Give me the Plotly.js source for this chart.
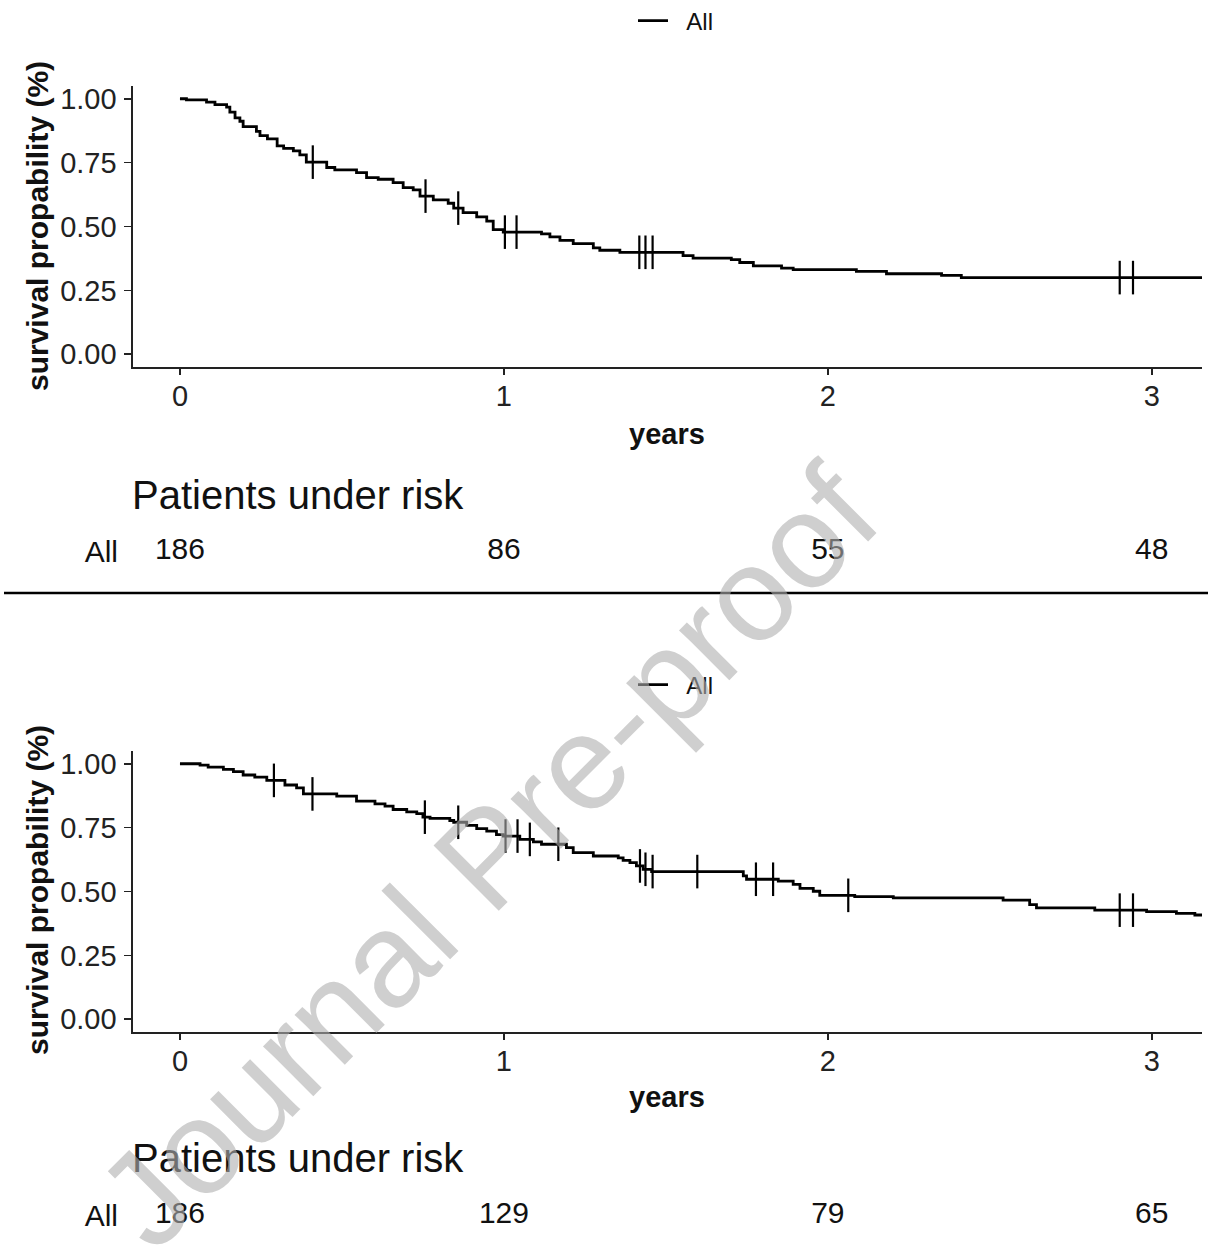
<!DOCTYPE html>
<html>
<head>
<meta charset="utf-8">
<script src="https://cdn.plot.ly/plotly-3.0.1.min.js"></script>
<style>html,body{margin:0;padding:0;background:#fff;}#chart{width:1208px;height:1253px;}</style>
</head>
<body>
<div id="chart"></div>
<script>
// ---- Data ----
const seriesName = "All";
const yearTicks = [0, 1, 2, 3];
const survTicks = [0, 0.25, 0.5, 0.75, 1];

// Upper panel: Kaplan-Meier steps
const timeTop = [0, 0.02, 0.082, 0.108, 0.144, 0.154, 0.170, 0.185, 0.195, 0.236, 0.247, 0.270, 0.300, 0.320, 0.350, 0.370, 0.390, 0.453, 0.478, 0.545, 0.576, 0.612, 0.658, 0.689, 0.72, 0.741, 0.782, 0.828, 0.845, 0.874, 0.916, 0.947, 0.967, 0.998, 1.116, 1.142, 1.173, 1.214, 1.276, 1.296, 1.358, 1.553, 1.584, 1.702, 1.728, 1.770, 1.857, 1.893, 2.088, 2.181, 2.351, 2.412, 3.2];
const survTop = [1, 0.996, 0.987, 0.977, 0.967, 0.948, 0.925, 0.912, 0.891, 0.872, 0.856, 0.843, 0.816, 0.806, 0.796, 0.780, 0.752, 0.731, 0.722, 0.711, 0.691, 0.685, 0.672, 0.652, 0.643, 0.619, 0.604, 0.591, 0.572, 0.554, 0.538, 0.521, 0.488, 0.478, 0.471, 0.459, 0.446, 0.433, 0.416, 0.407, 0.399, 0.386, 0.376, 0.370, 0.359, 0.346, 0.337, 0.331, 0.324, 0.315, 0.309, 0.300, 0.300];
const censorTop = [0.41, 0.758, 0.859, 1.003, 1.039, 1.418, 1.437, 1.459, 2.901, 2.942];
const riskTop = [186, 86, 55, 48];

// Lower panel: Kaplan-Meier steps
const timeBot = [0, 0.062, 0.087, 0.134, 0.165, 0.195, 0.231, 0.268, 0.324, 0.36, 0.381, 0.484, 0.545, 0.602, 0.633, 0.658, 0.70, 0.731, 0.750, 0.772, 0.833, 0.845, 0.885, 0.916, 0.947, 0.977, 0.998, 1.049, 1.091, 1.116, 1.193, 1.214, 1.276, 1.353, 1.368, 1.389, 1.409, 1.430, 1.456, 1.739, 1.749, 1.847, 1.893, 1.914, 1.955, 1.975, 2.083, 2.202, 2.541, 2.623, 2.644, 2.824, 2.984, 3.076, 3.133, 3.2];
const survBot = [1, 0.995, 0.987, 0.978, 0.969, 0.956, 0.948, 0.935, 0.917, 0.906, 0.882, 0.873, 0.854, 0.843, 0.834, 0.821, 0.812, 0.805, 0.791, 0.786, 0.778, 0.771, 0.759, 0.746, 0.736, 0.723, 0.717, 0.704, 0.694, 0.685, 0.672, 0.652, 0.639, 0.632, 0.622, 0.613, 0.600, 0.587, 0.578, 0.561, 0.548, 0.541, 0.528, 0.512, 0.501, 0.485, 0.480, 0.475, 0.466, 0.449, 0.436, 0.427, 0.421, 0.414, 0.408, 0.408];
const censorBot = [0.29, 0.409, 0.756, 0.859, 1.005, 1.042, 1.080, 1.168, 1.420, 1.437, 1.459, 1.597, 1.778, 1.831, 2.063, 2.901, 2.942];
const riskBot = [186, 129, 79, 65];

// ---- helpers ----
function stepValue(times, surv, t) {
  let v = surv[0];
  for (let i = 0; i < times.length; i++) { if (times[i] <= t) v = surv[i]; else break; }
  return v;
}
const FONT = "Liberation Sans, Arial, sans-serif";
const W = 1208, H = 1253;
const px = x => x / W;
const py = y => 1 - y / H;

const xDom = [px(133), px(1202)];
const xRange = [-0.145, 3.155];
const yRange = [-0.05, 1.05];
const legendLabel = "\u00a0\u00a0" + seriesName;

function kmTraces(times, surv, cens, xa, ya, leg) {
  return [
    {x: times, y: surv, type: "scatter", mode: "lines", name: legendLabel,
     line: {shape: "hv", color: "#000", width: 2.8}, xaxis: xa, yaxis: ya,
     legend: leg, showlegend: true, hoverinfo: "skip"},
    {x: cens, y: cens.map(t => stepValue(times, surv, t)), type: "scatter", mode: "markers",
     marker: {symbol: "line-ns-open", size: 24, color: "#000", line: {color: "#000", width: 2.2}},
     xaxis: xa, yaxis: ya, showlegend: false, hoverinfo: "skip", cliponaxis: false}
  ];
}
function riskTrace(vals, xa, ya) {
  return {x: yearTicks, y: yearTicks.map(() => 0), text: vals.map(String), type: "scatter", mode: "text",
          textposition: "middle center", textfont: {family: FONT, size: 30, color: "#111"},
          xaxis: xa, yaxis: ya, showlegend: false, hoverinfo: "skip", cliponaxis: false};
}

const data = [
  ...kmTraces(timeTop, survTop, censorTop, "x", "y", "legend"),
  ...kmTraces(timeBot, survBot, censorBot, "x2", "y2", "legend2"),
  riskTrace(riskTop, "x3", "y3"),
  riskTrace(riskBot, "x4", "y4")
];

const xAxisBase = {
  domain: xDom, range: xRange, tickvals: yearTicks, ticks: "outside", ticklen: 6, tickwidth: 1.5,
  tickcolor: "#222", showline: true, linecolor: "#222", linewidth: 1.6, showgrid: false, zeroline: false,
  tickfont: {family: FONT, size: 29, color: "#222"}, ticklabelstandoff: -3, fixedrange: true
};
const yAxisBase = {
  range: yRange, tickvals: survTicks, tickformat: ".2f", ticks: "outside", ticklen: 7, tickwidth: 1.5,
  tickcolor: "#222", showline: true, linecolor: "#222", linewidth: 1.6, showgrid: false, zeroline: false,
  tickfont: {family: FONT, size: 29, color: "#222"}, ticklabelstandoff: 2, fixedrange: true
};
const riskX = {domain: xDom, range: xRange, showline: false, showgrid: false, zeroline: false,
  showticklabels: false, ticks: "", fixedrange: true};
const riskY = {range: [-1, 1], tickvals: [0], ticktext: [seriesName], showline: false, showgrid: false,
  zeroline: false, ticks: "", tickfont: {family: FONT, size: 30, color: "#111"}, ticklabelstandoff: 14, fixedrange: true};

const legendBase = {orientation: "h", xanchor: "left", bgcolor: "rgba(0,0,0,0)",
  font: {family: FONT, size: 24, color: "#111"}, borderwidth: 0, itemwidth: 30};

const layout = {
  width: W, height: H, margin: {l: 0, r: 0, t: 0, b: 0, autoexpand: false}, paper_bgcolor: "#fff", plot_bgcolor: "#fff",
  font: {family: FONT},
  xaxis: Object.assign({}, xAxisBase, {anchor: "y"}),
  yaxis: Object.assign({}, yAxisBase, {domain: [py(367), py(86)], anchor: "x"}),
  xaxis2: Object.assign({}, xAxisBase, {anchor: "y2"}),
  yaxis2: Object.assign({}, yAxisBase, {domain: [py(1032), py(751)], anchor: "x2"}),
  xaxis3: Object.assign({}, riskX, {anchor: "y3"}),
  yaxis3: Object.assign({}, riskY, {domain: [py(571), py(531)], anchor: "x3"}),
  xaxis4: Object.assign({}, riskX, {anchor: "y4"}),
  yaxis4: Object.assign({}, riskY, {domain: [py(1235), py(1195)], anchor: "x4"}),
  legend: Object.assign({}, legendBase, {x: px(633), y: py(21), yanchor: "middle"}),
  legend2: Object.assign({}, legendBase, {x: px(633), y: py(685), yanchor: "middle"}),
  shapes: [
    {type: "line", xref: "paper", yref: "paper", x0: px(4), x1: 1, y0: py(593), y1: py(593),
     line: {color: "#000", width: 2.5}}
  ],
  annotations: [
    {text: "<b>survival propability (%)</b>", xref: "paper", yref: "paper", x: px(37), y: py(226),
     textangle: -90, showarrow: false, xanchor: "center", yanchor: "middle", font: {family: FONT, size: 30, color: "#111"}},
    {text: "<b>survival propability (%)</b>", xref: "paper", yref: "paper", x: px(37), y: py(890),
     textangle: -90, showarrow: false, xanchor: "center", yanchor: "middle", font: {family: FONT, size: 30, color: "#111"}},
    {text: "<b>years</b>", xref: "paper", yref: "paper", x: px(667), y: py(434), showarrow: false,
     xanchor: "center", yanchor: "middle", font: {family: FONT, size: 29, color: "#111"}},
    {text: "<b>years</b>", xref: "paper", yref: "paper", x: px(667), y: py(1097), showarrow: false,
     xanchor: "center", yanchor: "middle", font: {family: FONT, size: 29, color: "#111"}},
    {text: "Patients under risk", xref: "paper", yref: "paper", x: px(130), y: py(495), showarrow: false,
     xanchor: "left", yanchor: "middle", font: {family: FONT, size: 40, color: "#111"}},
    {text: "Patients under risk", xref: "paper", yref: "paper", x: px(130), y: py(1158), showarrow: false,
     xanchor: "left", yanchor: "middle", font: {family: FONT, size: 40, color: "#111"}},
    {text: "Journal Pre-proof", xref: "paper", yref: "paper", x: px(487), y: py(856), showarrow: false,
     textangle: -45, xanchor: "center", yanchor: "middle",
     font: {family: FONT, size: 134, color: "rgba(175,175,175,0.6)"}}
  ]
};

Plotly.newPlot("chart", data, layout, {displayModeBar: false, staticPlot: true});
</script>
</body>
</html>
